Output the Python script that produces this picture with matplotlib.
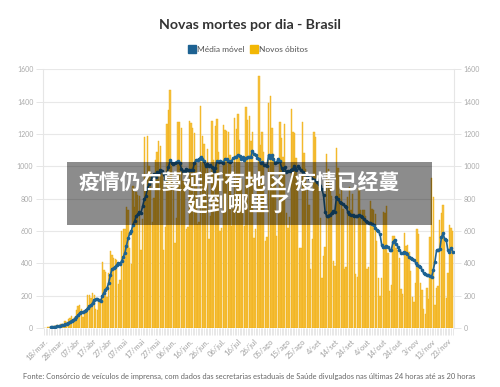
import numpy as np
import matplotlib.pyplot as plt
from matplotlib.lines import Line2D
from matplotlib.patches import Rectangle

# x tick labels, one every 10 days starting 18/mar
tick_labels = ['18/mar.', '28/mar.', '07/abr', '17/abr', '27/abr', '07/mai',
               '17/mai', '27/mai', '06/jun.', '16/jun.', '26/jun.', '06/jul.',
               '16/jul', '26/jul', '05/ago', '15/ago', '25/ago', '4/set',
               '14/set', '24/set', '4/out', '14/out', '24/out', '3/nov',
               '13/nov', '23/nov']

# novos óbitos, daily from 18/mar
deaths = [
    3, 3, 4, 7, 7, 9, 12, 11, 20, 15,
    22, 22, 23, 42, 40, 58, 60, 73, 54, 67,
    114, 133, 141, 115, 68, 99, 105, 204, 204, 188,
    217, 206, 115, 113, 166, 165, 407, 357, 346, 189,
    338, 474, 449, 435, 428, 421, 275, 296, 600, 615,
    610, 751, 730, 496, 396, 881, 749, 844, 824, 816,
    485, 674, 1179, 888, 1188, 1001, 965, 653, 807, 1039,
    1086, 1156, 1124, 956, 480, 623, 1262, 1349, 1473, 1005,
    904, 525, 679, 1272, 1274, 1239, 909, 892, 612, 627,
    1282, 1269, 1238, 1206, 1022, 641, 654, 1374, 1185, 1141,
    990, 1109, 552, 692, 1280, 1038, 1252, 1290, 1091, 602,
    620, 1254, 1223, 1220, 1214, 1071, 631, 733, 1300, 1233,
    1322, 1163, 921, 716, 632, 1367, 1284, 1311, 1156, 1211,
    555, 614, 921, 1556, 1129, 1212, 1088, 541, 561, 1394,
    1437, 1237, 1079, 905, 572, 703, 1274, 1175, 1060, 1262,
    709, 620, 684, 1352, 1212, 1204, 1054, 892, 494, 494,
    1271, 1085, 984, 855, 758, 366, 553, 1215, 1184, 888,
    874, 682, 310, 447, 504, 1075, 983, 874, 814, 415,
    381, 1113, 987, 829, 858, 739, 363, 377, 809, 869,
    729, 831, 708, 335, 317, 863, 729, 732, 728, 695,
    366, 375, 788, 734, 730, 703, 539, 309, 201, 309,
    716, 713, 754, 461, 230, 263, 571, 566, 497, 485,
    432, 242, 213, 586, 510, 513, 472, 355, 190, 162,
    278, 610, 583, 279, 234, 120, 85, 250, 180, 565,
    927, 813, 140, 250, 260, 670, 710, 760, 545, 185,
    340, 637, 620, 600,
]

# média móvel, daily from 22/mar
avg_start = 4
moving_avg = [
    4, 5, 6, 8, 10, 12, 14, 16, 18, 22,
    26, 32, 38, 45, 50, 56, 67, 80, 92, 100,
    99, 105, 111, 124, 134, 140, 155, 175, 177, 178,
    173, 167, 198, 218, 238, 249, 281, 325, 366, 370,
    380, 391, 403, 397, 415, 439, 464, 510, 554, 585,
    600, 640, 659, 692, 703, 715, 714, 753, 796, 816,
    865, 890, 911, 935, 954, 934, 963, 958, 976, 974,
    950, 923, 955, 993, 1038, 1021, 1014, 1020, 1028, 1030,
    1019, 985, 972, 970, 982, 975, 976, 976, 976, 1018,
    1037, 1041, 1045, 1058, 1046, 1032, 1001, 1013, 1001, 1006,
    993, 972, 988, 1030, 1028, 1035, 1025, 1021, 1047, 1043,
    1032, 1029, 1033, 1049, 1056, 1057, 1072, 1065, 1043, 1055,
    1041, 1051, 1058, 1056, 1055, 1097, 1074, 1071, 1050, 1046,
    1020, 1028, 1011, 1009, 1001, 1069, 1052, 1067, 1048, 1022,
    1026, 1047, 1030, 992, 967, 993, 965, 972, 969, 980,
    986, 1000, 978, 1000, 990, 975, 965, 955, 950, 940,
    930, 925, 920, 918, 916, 905, 890, 878, 860, 820,
    720, 690, 695, 700, 712, 722, 720, 808, 795, 780,
    772, 765, 755, 750, 720, 705, 700, 698, 695, 693,
    690, 700, 690, 688, 675, 660, 655, 652, 648, 646,
    640, 620, 605, 597, 580, 515, 503, 500, 505, 498,
    485, 483, 530, 545, 520, 503, 480, 466, 465, 470,
    462, 455, 440, 431, 428, 421, 405, 390, 385, 380,
    360, 339, 335, 330, 325, 320, 318, 360, 411, 480,
    485, 487, 560, 586, 550, 545, 480, 472, 493, 472,
]

W, H = 500, 387
BLUE = '#1d6292'
YELLOW = '#f6c240'
plt.rcParams['font.family'] = ['Lato', 'DejaVu Sans']

fig = plt.figure(figsize=(5, 3.87), dpi=100)
ax = fig.add_axes([43 / W, 1 - 328 / H, 411 / W, (328 - 69.3) / H])

days = np.arange(len(deaths))
ax.bar(days, deaths, width=0.85, color=YELLOW, edgecolor='#f0ae10',
       linewidth=0.3, zorder=2)
avg_days = np.arange(avg_start, avg_start + len(moving_avg))
ax.plot(avg_days, moving_avg, color=BLUE, lw=1.2, marker='o', ms=1.6,
        zorder=3)

ax.set_ylim(0, 1600)
ax.set_xlim(-0.7, 253.8)
ax.set_yticks(range(0, 1601, 200))
ax.grid(axis='y', color='#e8e8e8', lw=0.8, zorder=0)
ax.tick_params(axis='y', left=True, right=True, labelleft=True,
               labelright=True, length=5, width=0.6, color='#e2e2e2',
               labelsize=5, labelcolor='#aaaaaa', pad=2)
for side in ['top', 'bottom']:
    ax.spines[side].set_visible(False)
for side in ['left', 'right']:
    ax.spines[side].set_color('#e6e6e6')
    ax.spines[side].set_linewidth(0.8)

ax.set_xticks(range(0, 251, 10))
ax.set_xticklabels(tick_labels, rotation=45, ha='right',
                   rotation_mode='anchor', fontsize=5.5, color='#a0a0a0')
ax.set_xticks(days, minor=True)
ax.tick_params(axis='x', which='both', length=5, width=0.6,
               color='#e4e4e4', pad=2)

fig.text(250 / W, 1 - 25 / H, 'Novas mortes por dia - Brasil',
         ha='center', va='center', fontsize=10.2, fontweight='bold',
         color='#333333')

handles = [Line2D([], [], ls='', marker='s', ms=5.5, color=BLUE),
           Line2D([], [], ls='', marker='s', ms=5.5, color='#f2b705')]
fig.legend(handles, ['Média móvel', 'Novos óbitos'], loc='center',
           bbox_to_anchor=(248 / W, 1 - 49 / H), ncol=2, frameon=False,
           fontsize=6, labelcolor='#555555', handletextpad=0.1,
           columnspacing=0.7, handlelength=1.0)

fig.text(23 / W, 1 - 376 / H,
         'Fonte: Consórcio de veículos de imprensa, com dados das secretarias '
         'estaduais de Saúde divulgados nas últimas 24 horas até as 20 horas',
         ha='left', va='center', fontsize=5.45, color='#666666')

fig.patches.append(Rectangle((67 / W, 1 - 225 / H), (432 - 67) / W, 63 / H,
                             transform=fig.transFigure, facecolor='black',
                             alpha=0.45, edgecolor='none', zorder=10))
fig.text(239 / W, 1 - 193 / H, '疫情仍在蔓延所有地区/疫情已经蔓\n延到哪里了',
         ha='center', va='center', multialignment='center', fontsize=15,
         fontweight='black', color='white', linespacing=1.05,
         family=['Noto Sans CJK SC', 'DejaVu Sans'], zorder=11)

fig.savefig('out.png', dpi=100)
